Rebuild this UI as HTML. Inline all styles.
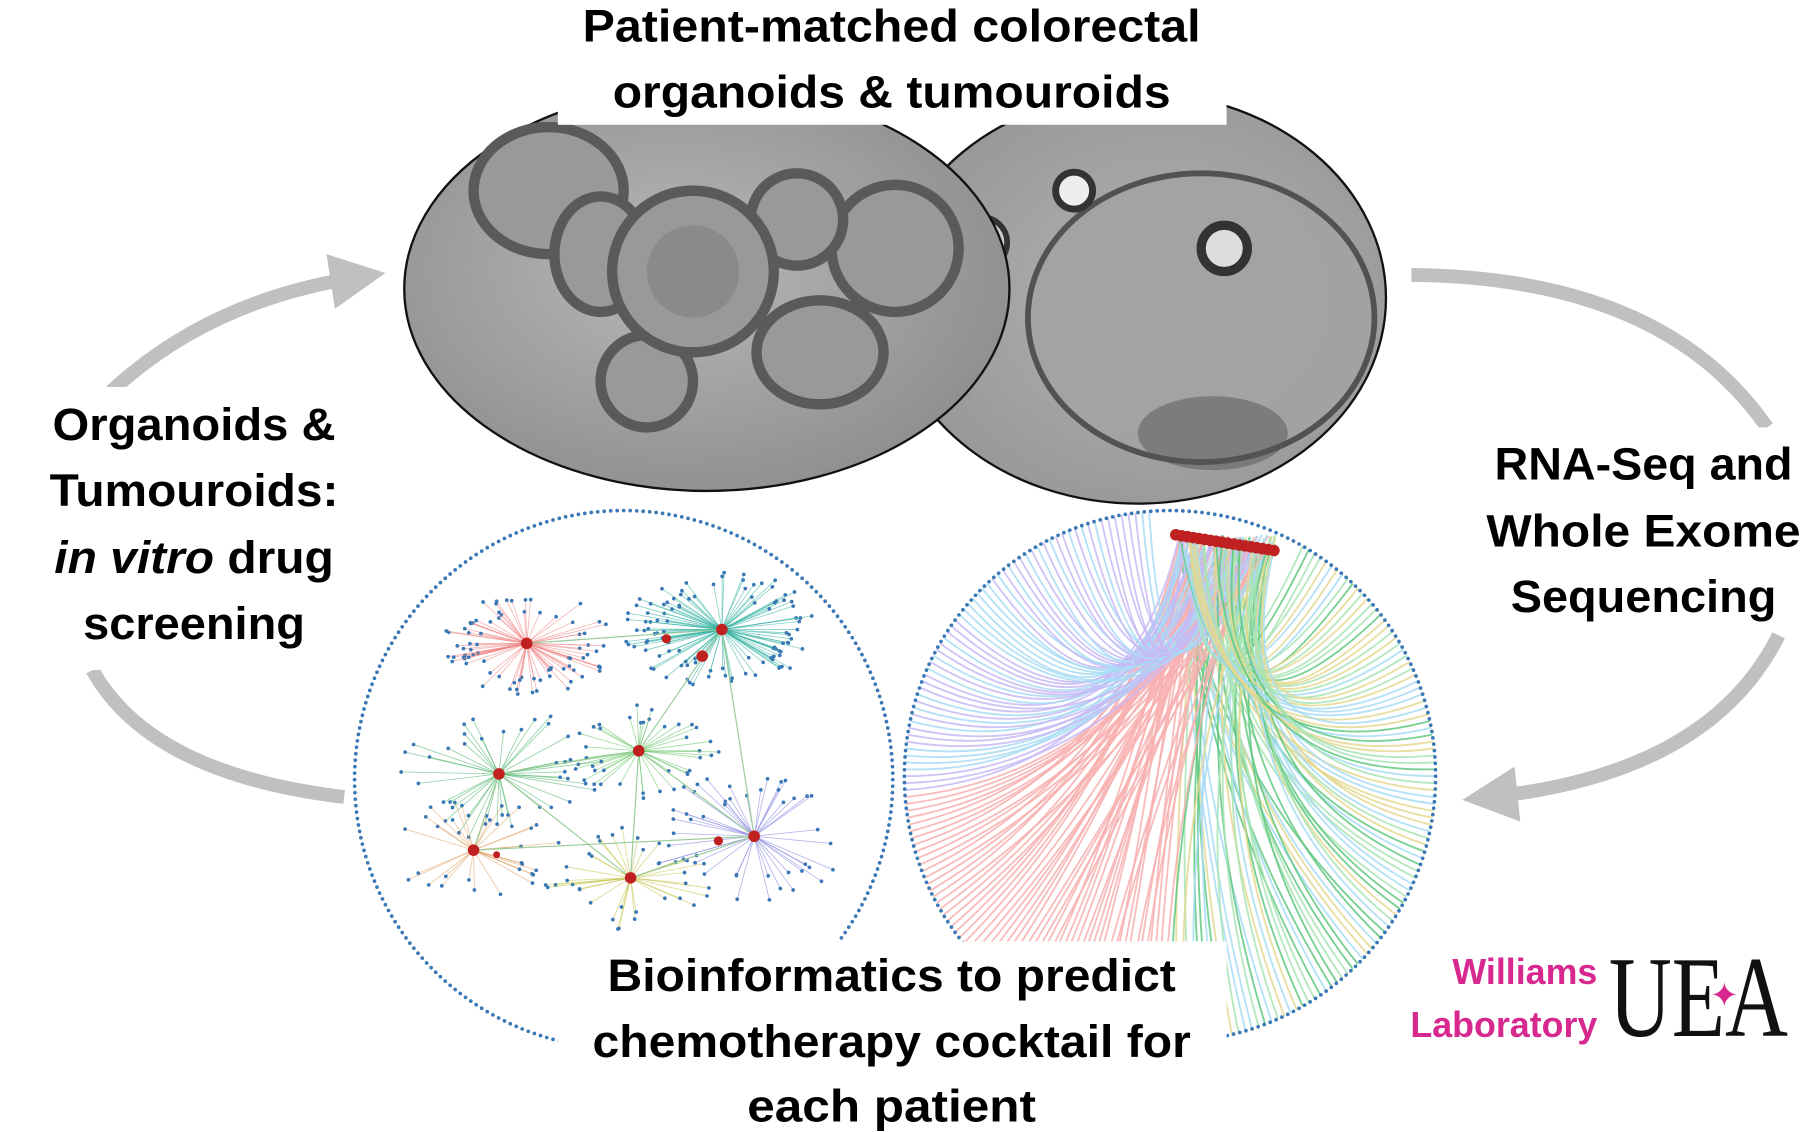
<!DOCTYPE html>
<html><head><meta charset="utf-8"><style>
html,body{margin:0;padding:0;background:#fff;}
svg{display:block}
.t{font-family:"Liberation Sans",sans-serif;font-weight:bold;font-size:39px;fill:#000;text-anchor:middle}
</style></head><body>
<svg id="s" width="1811" height="1132" viewBox="0 0 1568 980" xmlns="http://www.w3.org/2000/svg">
<defs>
<radialGradient id="g1" cx="0.45" cy="0.45" r="0.6"><stop offset="0" stop-color="#b8b8b8"/><stop offset="1" stop-color="#8e8e8e"/></radialGradient>
<radialGradient id="g2" cx="0.55" cy="0.5" r="0.6"><stop offset="0" stop-color="#b4b4b4"/><stop offset="1" stop-color="#959595"/></radialGradient>
<marker id="ah" markerWidth="4" markerHeight="4" refX="2" refY="2" orient="auto" markerUnits="strokeWidth"><path d="M0,0 L4,2 L0,4 z" fill="#c0c0c0"/></marker>
<clipPath id="c1"><circle cx="1013" cy="672" r="230"/></clipPath>
</defs>
<g fill="none" stroke="#c0c0c0" stroke-width="12">
<path d="M95,340 Q180,260 310,240" marker-end="url(#ah)"/>
<path d="M1222,238 Q1440,240 1530,370"/>
<path d="M1540,550 Q1480,670 1290,690" marker-end="url(#ah)"/>
<path d="M80,580 Q130,670 298,690"/>
</g>
<ellipse cx="985" cy="258" rx="215" ry="178" fill="url(#g2)" stroke="#111" stroke-width="2"/>
<ellipse cx="1040" cy="275" rx="150" ry="125" fill="#a3a3a3" stroke="#4a4a4a" stroke-width="5" opacity="0.9"/>
<circle cx="1060" cy="215" r="20" fill="#ddd" stroke="#333" stroke-width="8"/>
<circle cx="930" cy="165" r="16" fill="#eee" stroke="#333" stroke-width="6"/>
<circle cx="850" cy="210" r="22" fill="#ccc" stroke="#333" stroke-width="5"/>
<ellipse cx="1050" cy="375" rx="65" ry="32" fill="#555" opacity="0.5"/>
<ellipse cx="612" cy="250" rx="262" ry="175" fill="url(#g1)" stroke="#111" stroke-width="2"/>
<g fill="#999" stroke="#5a5a5a" stroke-width="9">
<ellipse cx="475" cy="165" rx="65" ry="55"/><ellipse cx="775" cy="215" rx="55" ry="55"/>
<ellipse cx="560" cy="330" rx="40" ry="40"/><ellipse cx="710" cy="305" rx="55" ry="45"/>
<ellipse cx="520" cy="220" rx="40" ry="50"/><ellipse cx="690" cy="190" rx="40" ry="40"/>
<circle cx="600" cy="235" r="70"/>
</g>
<circle cx="600" cy="235" r="40" fill="#8a8a8a"/>
<rect x="483" y="0" width="579" height="108" fill="#fff"/>
<text class="t" x="772" y="36" textLength="535" lengthAdjust="spacingAndGlyphs">Patient-matched colorectal</text>
<text class="t" x="772" y="93" textLength="483" lengthAdjust="spacingAndGlyphs">organoids &amp; tumouroids</text>
<rect x="0" y="335" width="300" height="245" fill="#fff"/>
<text class="t" x="168" y="381" textLength="245" lengthAdjust="spacingAndGlyphs">Organoids &amp;</text>
<text class="t" x="168" y="438" textLength="250" lengthAdjust="spacingAndGlyphs">Tumouroids:</text>
<text class="t" x="168" y="496" textLength="242" lengthAdjust="spacingAndGlyphs"><tspan font-style="italic">in vitro</tspan> drug</text>
<text class="t" x="168" y="553" textLength="192" lengthAdjust="spacingAndGlyphs">screening</text>
<rect x="1265" y="370" width="303" height="175" fill="#fff"/>
<text class="t" x="1423" y="415" textLength="258" lengthAdjust="spacingAndGlyphs">RNA-Seq and</text>
<text class="t" x="1423" y="473" textLength="272" lengthAdjust="spacingAndGlyphs">Whole Exome</text>
<text class="t" x="1423" y="530" textLength="230" lengthAdjust="spacingAndGlyphs">Sequencing</text>
<g id="net1"></g>
<g id="net2" clip-path="url(#c1)"></g>
<g id="dots"></g>
<rect x="483" y="815" width="579" height="165" fill="#fff"/>
<text class="t" x="772" y="858" textLength="492" lengthAdjust="spacingAndGlyphs">Bioinformatics to predict</text>
<text class="t" x="772" y="915" textLength="518" lengthAdjust="spacingAndGlyphs">chemotherapy cocktail for</text>
<text class="t" x="772" y="971" textLength="250" lengthAdjust="spacingAndGlyphs">each patient</text>
<g font-family="Liberation Sans,sans-serif" font-weight="bold" font-size="31" fill="#d6288e" text-anchor="end">
<text x="1383" y="852">Williams</text><text x="1383" y="898">Laboratory</text></g>
<text x="1393" y="897" font-family="Liberation Serif,serif" font-size="100" fill="#111" textLength="155" lengthAdjust="spacingAndGlyphs">UEA</text>
<text x="1493" y="872" font-size="30" fill="#d6288e" text-anchor="middle">✦</text>
</svg>
<script>
var NS="http://www.w3.org/2000/svg";
function el(p,t,a){var e=document.createElementNS(NS,t);for(var k in a)e.setAttribute(k,a[k]);p.appendChild(e);return e;}
var d=document.getElementById('dots'),n1=document.getElementById('net1'),n2=document.getElementById('net2');
function dotted(cx,cy,r,n){for(var i=0;i<n;i++){var a=i/n*2*Math.PI;el(d,'circle',{cx:cx+r*Math.cos(a),cy:cy+r*Math.sin(a),r:1.6,fill:'#3a78b5'});}}
dotted(540,675,233,260);dotted(1013,672,230,260);
var hubs=[[456,557,'#f08080',75,80],[625,545,'#30b0a0',85,110],[553,650,'#60c060',70,40],[432,670,'#40b060',95,40],[410,736,'#e0a060',75,30],[653,724,'#8080e0',95,45],[546,760,'#c0c040',75,35]];
var R=7;function rnd(){R=(R*9301+49297)%233280;return R/233280;}
hubs.forEach(function(h){for(var i=0;i<h[4];i++){var a=rnd()*2*Math.PI,r=h[3]*(0.55+0.45*rnd());var x=h[0]+r*Math.cos(a),y=h[1]+r*Math.sin(a)*0.6;el(n1,'line',{x1:h[0],y1:h[1],x2:x,y2:y,stroke:h[2],'stroke-width':0.7,opacity:0.6});el(n1,'circle',{cx:x,cy:y,r:1.6,fill:'#3a78b5'});}});
var links=[[0,1],[1,2],[2,3],[3,4],[4,5],[2,6],[6,5],[1,5],[2,5],[3,6]];
links.forEach(function(l){el(n1,'line',{x1:hubs[l[0]][0],y1:hubs[l[0]][1],x2:hubs[l[1]][0],y2:hubs[l[1]][1],stroke:'#9c9','stroke-width':1});});
hubs.forEach(function(h){el(n1,'circle',{cx:h[0],cy:h[1],r:5,fill:'#c02020'});});
el(n1,'circle',{cx:577,cy:553,r:4,fill:'#c02020'});el(n1,'circle',{cx:608,cy:568,r:5,fill:'#c02020'});el(n1,'circle',{cx:430,cy:740,r:3,fill:'#c02020'});el(n1,'circle',{cx:622,cy:728,r:4,fill:'#c02020'});
var cols=['#f8b0b0','#c8b8f4','#a8dcf4','#a8e4b4','#e4d890','#60c880'];
for(var i=0;i<240;i++){var a=(i/240)*2*Math.PI;var x=1013+230*Math.cos(a),y=672+230*Math.sin(a);if(y<470&&x>1000)continue;var sx=1020+rnd()*85,sy=463+rnd()*15;var c=x<1013?(y>690?cols[0]:cols[1+Math.floor(rnd()*2)]):cols[2+Math.floor(rnd()*4)];el(n2,'path',{d:'M'+sx+','+sy+' Q'+(1013+(x-1013)*0.2)+','+(672)+' '+x+','+y,fill:'none',stroke:c,'stroke-width':1.6,opacity:0.85});}
for(var i=0;i<18;i++)el(n2,'circle',{cx:1018+i*5,cy:463+i*0.8,r:5,fill:'#c02020'});
</script>
</body></html>
